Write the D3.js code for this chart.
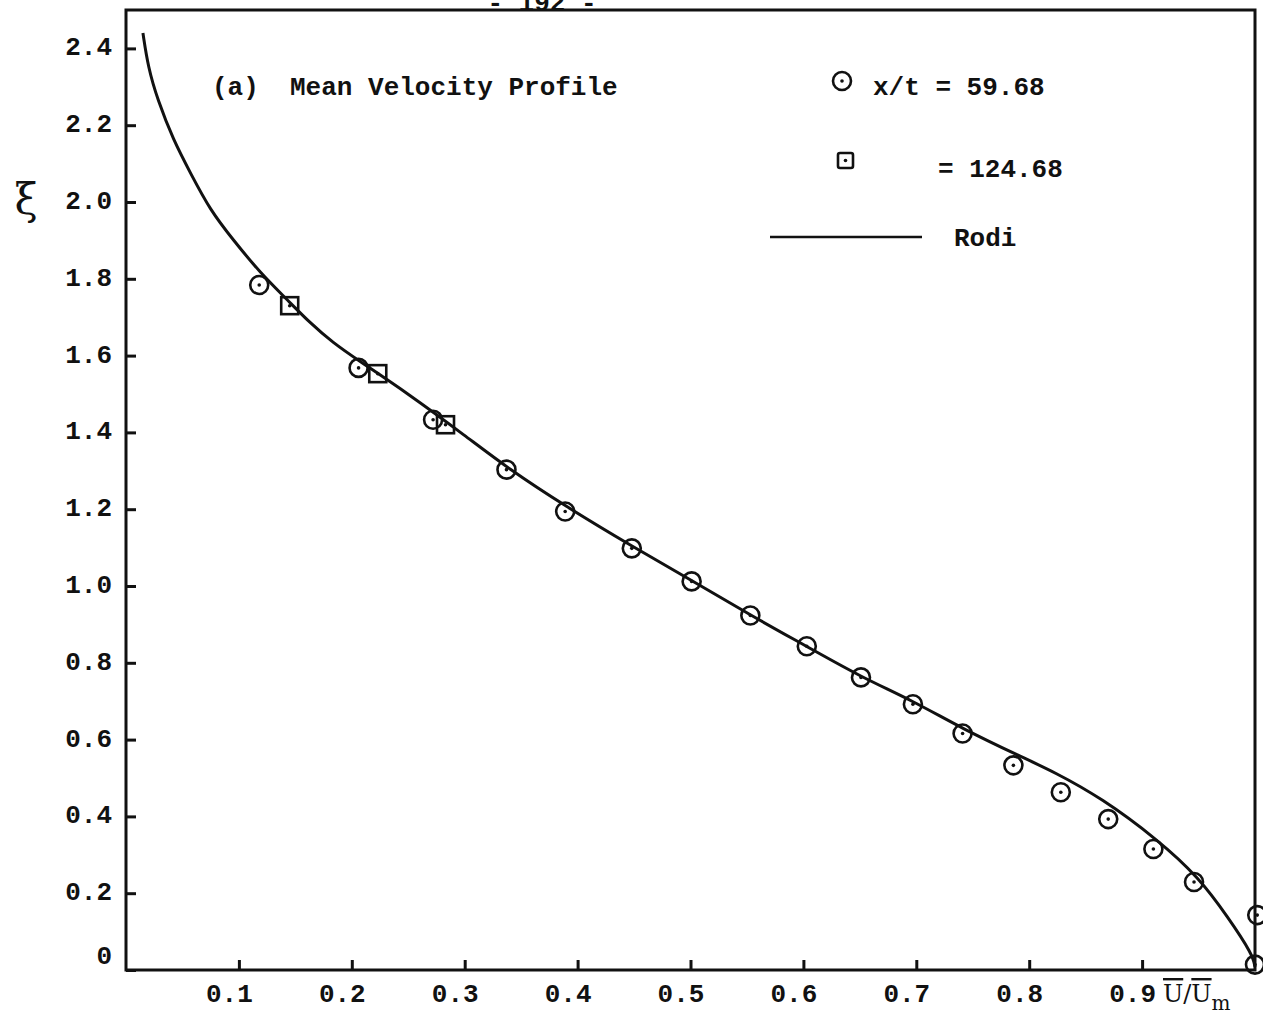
<!DOCTYPE html>
<html>
<head>
<meta charset="utf-8">
<script src="https://cdn.jsdelivr.net/npm/d3@7"></script>
<style>
  html, body { margin: 0; padding: 0; background: #fff; }
  svg { display: block; }
  text { font-family: "Liberation Mono", "DejaVu Sans Mono", monospace; font-weight: bold; fill: #111; }
</style>
</head>
<body>
<svg id="chart"></svg>
<script>
// measured points, x/t = 59.68 (circles)
const circleX = [0.118, 0.206, 0.272, 0.337, 0.389, 0.448, 0.501, 0.553, 0.603, 0.651, 0.697, 0.741, 0.786, 0.828, 0.870, 0.910, 0.946, 1.002, 1.0];
const circleY = [1.784, 1.568, 1.433, 1.303, 1.194, 1.098, 1.012, 0.923, 0.843, 0.762, 0.692, 0.616, 0.533, 0.463, 0.393, 0.315, 0.229, 0.143, 0.014];

// x/t = 124.68 (squares)
const squareX = [0.145, 0.223, 0.283];
const squareY = [1.730, 1.553, 1.420];

// Rodi prediction
const rodiX = [0.015, 0.0195, 0.028, 0.042, 0.057, 0.0745, 0.095, 0.119, 0.143, 0.163, 0.1835, 0.205, 0.249, 0.302, 0.338, 0.389, 0.449, 0.502, 0.553, 0.604, 0.651, 0.697, 0.741, 0.793, 0.822, 0.864, 0.914, 0.950, 0.976, 0.998, 1.0];
const rodiY = [2.440, 2.352, 2.266, 2.161, 2.076, 1.979, 1.901, 1.815, 1.745, 1.685, 1.633, 1.589, 1.503, 1.388, 1.307, 1.208, 1.102, 1.013, 0.924, 0.841, 0.763, 0.701, 0.628, 0.555, 0.516, 0.448, 0.339, 0.242, 0.138, 0.040, 0.008];

const xTicks = [0.1, 0.2, 0.3, 0.4, 0.5, 0.6, 0.7, 0.8, 0.9];
const yTicks = [0, 0.2, 0.4, 0.6, 0.8, 1.0, 1.2, 1.4, 1.6, 1.8, 2.0, 2.2, 2.4];

const width = 1263, height = 1015;
const margin = { top: 10, right: 8, bottom: 45, left: 126 };

const svg = d3.select("#chart").attr("width", width).attr("height", height);

const x = d3.scaleLinear().domain([0, 1]).range([margin.left, width - margin.right]);
const y = d3.scaleLinear().domain([0, 2.5]).range([height - margin.bottom, margin.top]);

const fs = 26;

// page number, mostly cut by the frame
svg.append("text")
  .attr("x", 542).attr("y", 11)
  .attr("text-anchor", "middle")
  .attr("font-size", fs)
  .text("- 192 -");

// frame
svg.append("rect")
  .attr("x", x(0)).attr("y", y(2.5))
  .attr("width", x(1) - x(0)).attr("height", y(0) - y(2.5))
  .attr("fill", "none").attr("stroke", "#111").attr("stroke-width", 3);

// x axis ticks (pointing inward)
const xAxis = svg.append("g")
  .attr("transform", `translate(0,${y(0)})`)
  .call(d3.axisBottom(x).tickValues(xTicks).tickSize(-10).tickPadding(14).tickFormat(d3.format(".1f")));
xAxis.select(".domain").remove();
xAxis.selectAll(".tick line").attr("stroke", "#111").attr("stroke-width", 3);
xAxis.selectAll(".tick text")
  .attr("font-size", fs)
  .attr("fill", "#111")
  .attr("dx", -10);

// y axis ticks
const yAxis = svg.append("g")
  .attr("transform", `translate(${x(0)},0)`)
  .call(d3.axisLeft(y).tickValues(yTicks).tickSize(-10).tickPadding(14)
    .tickFormat(d => d === 0 ? "0" : d3.format(".1f")(d)));
yAxis.select(".domain").remove();
yAxis.selectAll(".tick line").attr("stroke", "#111").attr("stroke-width", 3);
yAxis.selectAll(".tick text")
  .attr("font-size", fs)
  .attr("fill", "#111")
  .attr("dy", d => d === 0 ? "-0.25em" : "0.25em");

// axis titles
svg.append("text")
  .attr("x", 26).attr("y", 214)
  .attr("text-anchor", "middle")
  .attr("font-size", 42)
  .style("font-family", "'DejaVu Serif', serif")
  .style("font-weight", "normal")
  .text("ξ");

const xt = svg.append("text")
  .attr("x", 1163).attr("y", 1002)
  .attr("font-size", 24)
  .style("font-family", "'DejaVu Serif', serif")
  .style("font-weight", "normal");
xt.append("tspan").style("text-decoration", "overline").text("U");
xt.append("tspan").text("/");
xt.append("tspan").style("text-decoration", "overline").text("U");
xt.append("tspan").attr("dy", 8).attr("font-size", 20).text("m");

// Rodi curve
const line = d3.line()
  .x(d => x(d[0]))
  .y(d => y(d[1]))
  .curve(d3.curveBasis);

svg.append("path")
  .datum(d3.zip(rodiX, rodiY))
  .attr("d", line)
  .attr("fill", "none")
  .attr("stroke", "#111")
  .attr("stroke-width", 3);

// circles
const circ = svg.append("g").selectAll("g")
  .data(d3.zip(circleX, circleY))
  .join("g")
  .attr("transform", d => `translate(${x(d[0])},${y(d[1])})`);
circ.append("circle").attr("r", 9).attr("fill", "none").attr("stroke", "#111").attr("stroke-width", 2.6);
circ.append("circle").attr("r", 1.8).attr("fill", "#111");

// squares
const sq = svg.append("g").selectAll("g")
  .data(d3.zip(squareX, squareY))
  .join("g")
  .attr("transform", d => `translate(${x(d[0])},${y(d[1])})`);
sq.append("rect").attr("x", -8.5).attr("y", -8.5).attr("width", 17).attr("height", 17)
  .attr("fill", "none").attr("stroke", "#111").attr("stroke-width", 2.6);
sq.append("circle").attr("r", 1.8).attr("fill", "#111");

// title
svg.append("text")
  .attr("x", 212).attr("y", 95)
  .attr("font-size", fs)
  .attr("xml:space", "preserve")
  .text("(a)  Mean Velocity Profile");

// legend
const lg = svg.append("g");
lg.append("circle").attr("cx", 842).attr("cy", 81).attr("r", 9)
  .attr("fill", "none").attr("stroke", "#111").attr("stroke-width", 2.6);
lg.append("circle").attr("cx", 842).attr("cy", 81).attr("r", 1.8).attr("fill", "#111");
lg.append("text").attr("x", 873).attr("y", 95).attr("font-size", fs)
  .text("x/t = 59.68");

lg.append("rect").attr("x", 838).attr("y", 153).attr("width", 15).attr("height", 15)
  .attr("fill", "none").attr("stroke", "#111").attr("stroke-width", 2.6).attr("rx", 2);
lg.append("circle").attr("cx", 845.5).attr("cy", 160.5).attr("r", 1.8).attr("fill", "#111");
lg.append("text").attr("x", 938).attr("y", 177).attr("font-size", fs)
  .text("= 124.68");

lg.append("line").attr("x1", 770).attr("x2", 922).attr("y1", 237).attr("y2", 237)
  .attr("stroke", "#111").attr("stroke-width", 2.6);
lg.append("text").attr("x", 954).attr("y", 246).attr("font-size", fs)
  .text("Rodi");
</script>
</body>
</html>
